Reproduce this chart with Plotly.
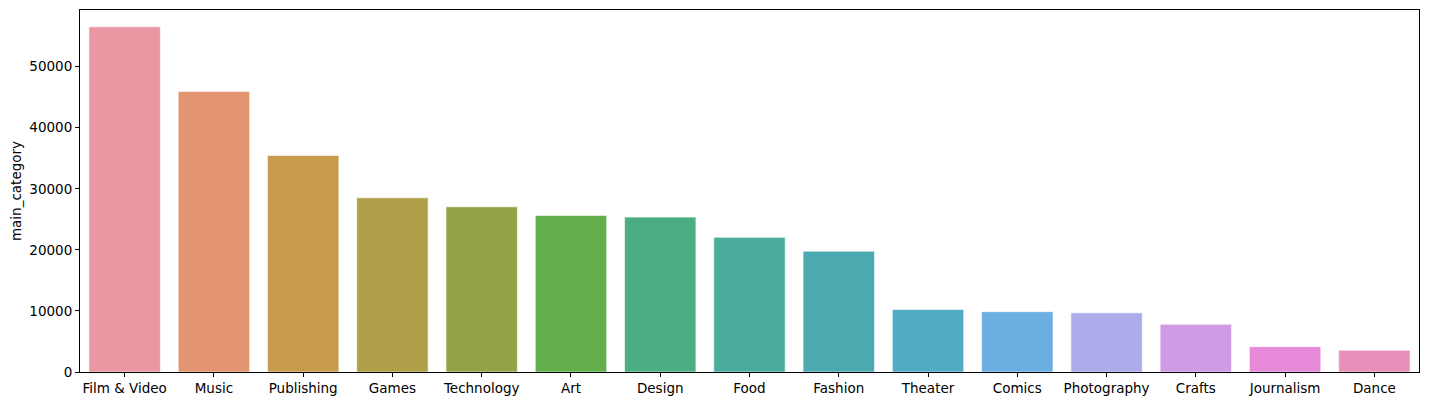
import plotly.graph_objects as go

categories = ["Film & Video", "Music", "Publishing", "Games", "Technology", "Art", "Design",
              "Food", "Fashion", "Theater", "Comics", "Photography", "Crafts", "Journalism", "Dance"]
counts = [56527, 45949, 35445, 28521, 27050, 25641, 25364, 22054, 19775, 10242, 9878, 9689, 7818, 4149, 3573]
colors = ["#EA96A3", "#E39571", "#C89A4C", "#AD9E47", "#93A448", "#62AE4A", "#4BAE82", "#4AAD9C",
          "#4BA9AF", "#50ACC3", "#6BAEE2", "#ADACEB", "#CF9BE6", "#E78AD9", "#E890BA"]
y_ticks = [0, 10000, 20000, 30000, 40000, 50000]

fig = go.Figure(go.Bar(
    x=list(range(len(categories))), y=counts, width=0.8,
    marker=dict(color=colors, line=dict(color="rgba(255,255,255,0.6)", width=1)),
))
font = dict(family="DejaVu Sans", size=13.5, color="black")
fig.update_layout(
    width=1429, height=404, margin=dict(l=72, r=18, t=2, b=40, autoexpand=False),
    plot_bgcolor="white", paper_bgcolor="white", showlegend=False, font=font, bargap=0.2,
)
fig.update_xaxes(range=[-0.5, 14.5], tickmode="array", tickvals=list(range(len(categories))),
                 ticktext=categories, showgrid=False, zeroline=False, showline=True, linecolor="black",
                 linewidth=1, mirror=True, ticks="outside", ticklen=4, tickcolor="black", tickfont=font)
fig.update_yaxes(range=[0, 59276], tickmode="array", tickvals=y_ticks, ticktext=[str(v) for v in y_ticks],
                 showgrid=False, zeroline=False, showline=True, linecolor="black", linewidth=1, mirror=True,
                 ticks="outside", ticklen=4, tickcolor="black", tickfont=font,
                 title=dict(text="main_category", font=font, standoff=8))
fig.write_html("out.html")
